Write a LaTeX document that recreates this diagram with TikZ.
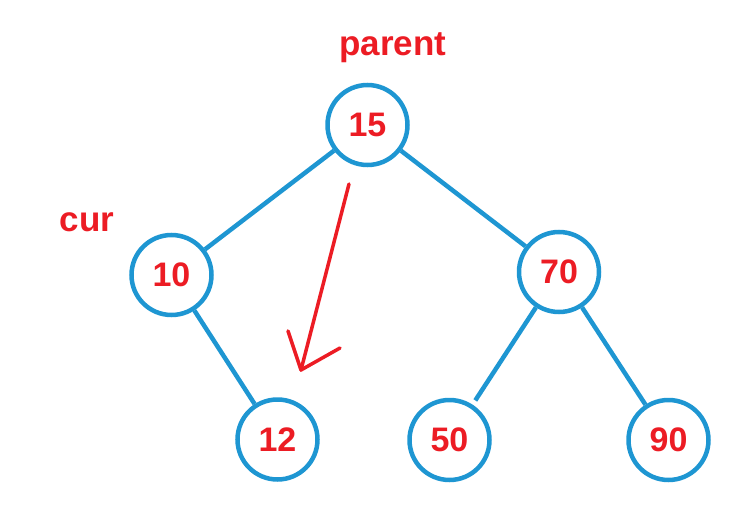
\documentclass[tikz,border=0pt]{standalone}
\usepackage{fontspec}
\setmainfont{Liberation Sans}
\definecolor{treeblue}{RGB}{30,150,210}
\definecolor{markred}{RGB}{236,28,36}
\begin{document}
\begin{tikzpicture}[x=1pt,y=-1pt,
  tnode/.style={circle,draw=treeblue,line width=4.5pt,minimum size=80pt,inner sep=0pt,
    text=markred,font=\fontsize{34}{34}\selectfont\bfseries},
  tedge/.style={draw=treeblue,line width=4.5pt},
  lbl/.style={text=markred,font=\fontsize{35}{35}\selectfont\bfseries,inner sep=0pt},
  redarrow/.style={draw=markred,line width=3.5pt,line cap=round,line join=round}]
\useasboundingbox (0,0) rectangle (742,522);
\node[tnode] (n15) at (367.5,125) {15};
\node[tnode] (n10) at (171.5,275) {10};
\node[tnode] (n70) at (559,272) {70};
\node[tnode] (n12) at (277.5,439.5) {12};
\node[tnode] (n50) at (449.5,440) {50};
\node[tnode] (n90) at (668.5,440) {90};
\draw[tedge] (n15) -- (n10);
\draw[tedge] (n15) -- (n70);
\draw[tedge] (n10) -- (n12);
\draw[tedge,shorten >=5pt] (n70) -- (n50);
\draw[tedge] (n70) -- (n90);
\node[lbl,anchor=base] (parent) at (393,55) {parent};
\node[lbl,anchor=base] (cur) at (87,231) {cur};
\coordinate (as) at (349,184);
\coordinate (at) at (301,370);
\coordinate (bl) at (288,331);
\coordinate (br) at (340,348);
\draw[redarrow] (as) -- (at);
\draw[redarrow] (bl) -- (at) -- (br);
\end{tikzpicture}
\end{document}
